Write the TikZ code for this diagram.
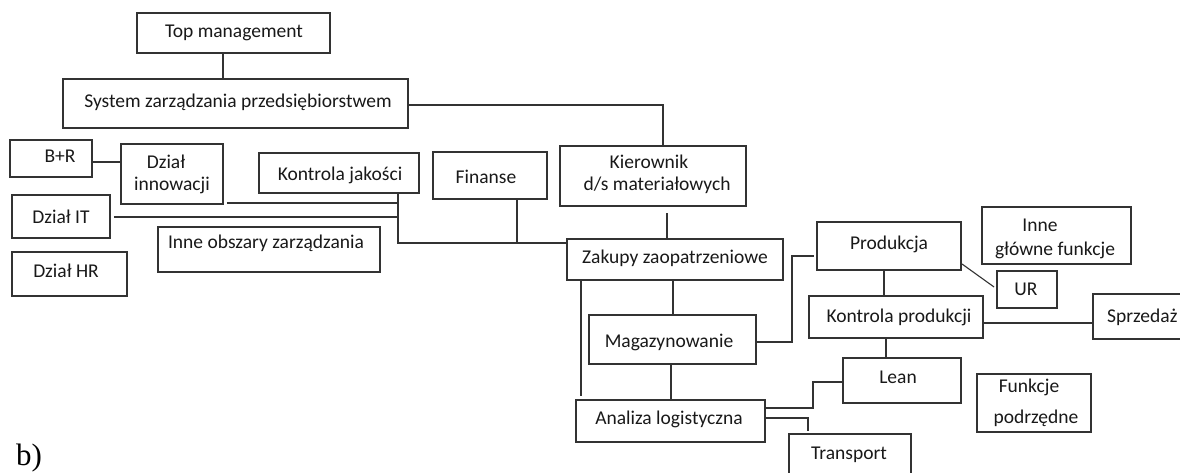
\documentclass[tikz,border=0pt]{standalone}
\usepackage{fontspec}
\setmainfont{Carlito}
\newfontfamily\timesf{Liberation Serif}
\tikzset{
  box/.style={draw=black!80, line width=1.9pt, inner sep=0pt, rectangle},
  lbl/.style={inner sep=0pt, anchor=base, font=\fontsize{19.5}{22}\selectfont, text=black!90},
  con/.style={draw=black!80, line width=2pt},
}
\newcommand\mybox[5]{\node[box, minimum width=#4pt, minimum height=#5pt] (#1) at (#2,#3) {};}
\newcommand\mytext[4]{\node[lbl] (#1) at (#2,#3) {#4};}
\begin{document}
\begin{tikzpicture}[x=1pt,y=-1pt]
\fill[white] (0,0) rectangle (1180,472);
\useasboundingbox (0,0) rectangle (1180,472);
% boxes
\mybox{top}{233.5}{33}{193}{40}
\mybox{sys}{235.5}{103.5}{345}{49}
\mybox{br}{51}{158.5}{82}{37}
\mybox{innov}{172}{174}{102}{60}
\mybox{kj}{339}{173}{160}{40}
\mybox{it}{61}{216.5}{98}{43}
\mybox{hr}{69.5}{274}{115}{44}
\mybox{inne}{269}{249.5}{222}{45}
\mybox{fin}{490}{175.5}{114}{47}
\mybox{kier}{653}{176}{186}{60}
\mybox{zak}{675}{259.5}{216}{41}
\mybox{mag}{672.5}{339.5}{167}{49}
\mybox{prod}{889}{246}{144}{48}
\mybox{igf}{1056.5}{235.5}{149}{57}
\mybox{ur}{1027}{289.5}{60}{37}
\mybox{kp}{896}{317}{174}{42}
\mybox{sp}{1146.5}{316.5}{107}{45}
\mybox{lean}{902}{380.5}{118}{45}
\mybox{fp}{1034}{403}{114}{58}
\mybox{ana}{670.5}{421}{189}{42}
\mybox{tr}{850}{457}{122}{46}
% texts
\mytext{ttop}{234}{37}{Top management}
\mytext{tsys}{238}{107}{System zarządzania przedsiębiorstwem}
\mytext{tbr}{60}{162}{B+R}
\mytext{tinnova}{166}{168}{Dział}
\mytext{tinnovb}{172}{190}{innowacji}
\mytext{tkj}{340}{180}{Kontrola jakości}
\mytext{tit}{61}{223}{Dział IT}
\mytext{tinne}{266}{248}{Inne obszary zarządzania}
\mytext{thr}{66}{277}{Dział HR}
\mytext{tfin}{486}{183}{Finanse}
\mytext{tkiera}{649}{168}{Kierownik}
\mytext{tkierb}{657}{190}{d/s materiałowych}
\mytext{tzak}{675}{263}{Zakupy zaopatrzeniowe}
\mytext{tmag}{669}{347}{Magazynowanie}
\mytext{tprod}{889}{249}{Produkcja}
\mytext{tigfa}{1040}{231}{Inne}
\mytext{tigfb}{1055}{255}{główne funkcje}
\mytext{tur}{1026}{295}{UR}
\mytext{tkp}{899}{322}{Kontrola produkcji}
\node[lbl, anchor=base west] (tsp) at (1107,322) {Sprzedaż};
\mytext{tlean}{898}{383}{Lean}
\mytext{tfpa}{1029}{392}{Funkcje}
\mytext{tfpb}{1036}{423}{podrzędne}
\mytext{tana}{669}{424}{Analiza logistyczna}
\mytext{ttr}{849}{459}{Transport}
\node[inner sep=0pt, anchor=base west, font=\timesf\fontsize{31}{34}\selectfont] (tb) at (16,465) {b)};
% connectors
\coordinate (c1) at ([xshift=-10.5pt]top.south);
\draw[con] (c1) -- (c1 |- sys.north);
\coordinate (c2) at ([yshift=-1.5pt]sys.east);
\coordinate (c3) at ([xshift=10pt]kier.north);
\draw[con] (c2) -| (c3);
\coordinate (c4) at ([yshift=-3.5pt]br.east);
\draw[con] (c4) -- (c4 -| innov.west);
\coordinate (kjv) at ([xshift=59pt]kj.south);
\coordinate (hl) at ([yshift=16.5pt]zak.west);
\draw[con] (kjv) |- (hl);
\coordinate (ia) at ([xshift=3pt,yshift=2pt]innov.south east);
\draw[con] (ia) -- (ia -| kjv);
\coordinate (ita) at ([xshift=3pt]it.east);
\draw[con] (ita) -- (ita -| kjv);
\coordinate (fs) at ([xshift=27pt]fin.south);
\draw[con] (fs) -- (fs |- hl);
\coordinate (kz) at ([xshift=-8pt]zak.north);
\coordinate (kb) at ([yshift=-6pt]kier.south);
\draw[con] (kz) -- (kz |- kb);
\draw[con] (mag.north) -- (mag.north |- zak.south);
\coordinate (za) at ([xshift=15pt]zak.south west);
\coordinate (ab) at ([yshift=3pt]ana.north);
\draw[con] (za) -- (za |- ab);
\coordinate (ma) at ([yshift=-2.5pt]mag.east);
\coordinate (pa) at ([xshift=-2pt,yshift=-10pt]prod.west);
\draw[con] (ma) -- ++(35,0) |- (pa);
\coordinate (pk) at ([xshift=-5pt]prod.south);
\draw[con] (pk) -- (pk |- kp.north);
\draw[con, line width=1.1pt] ([yshift=7pt]prod.south east) -- ([xshift=-2pt,yshift=2.5pt]ur.west);
\coordinate (ks) at ([yshift=-6pt]kp.east);
\draw[con] (ks) -- (ks -| sp.west);
\coordinate (kl) at ([xshift=-10pt]kp.south);
\draw[con] (kl) -- (kl |- lean.north);
\draw[con] (ana.north) -- (ana.north |- mag.south);
\coordinate (al) at ([yshift=13pt]ana.east);
\coordinate (la) at ([yshift=-1.5pt]lean.west);
\draw[con] (al) -- ++(47,0) |- (la);
\coordinate (atr) at ([yshift=3pt]ana.east);
\coordinate (tt) at ([xshift=-42pt,yshift=2pt]tr.north);
\draw[con] (atr) -| (tt);
\end{tikzpicture}
\end{document}
